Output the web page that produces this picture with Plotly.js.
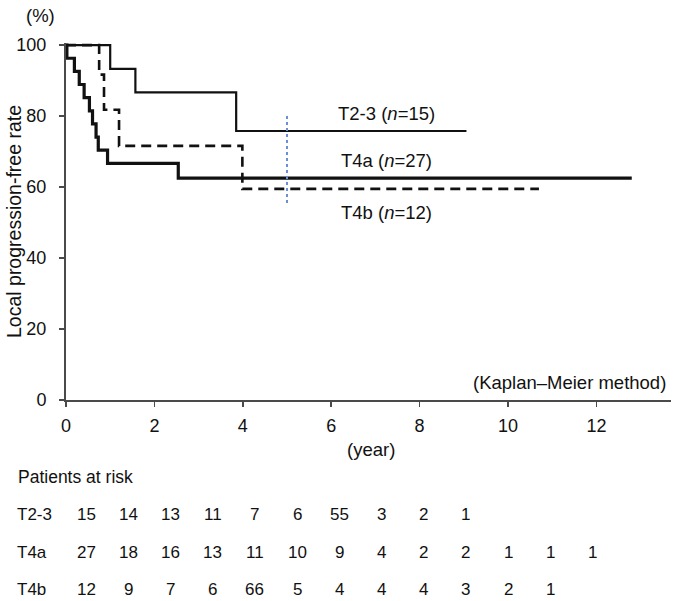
<!DOCTYPE html>
<html><head><meta charset="utf-8">
<script src="https://cdn.plot.ly/plotly-3.0.1.min.js"></script>
<style>html,body{margin:0;padding:0;background:#fff}#chart{width:675px;height:601px}</style>
</head><body><div id="chart"></div>
<script>
// ---- data ----
const t23Time = [0, 1.0, 1.57, 3.85, 9.06];
const t23Surv = [100, 93.3, 86.7, 75.8, 75.8];
const t4aTime = [0, 0.02, 0.19, 0.30, 0.41, 0.53, 0.60, 0.68, 0.73, 0.94, 2.54, 12.8];
const t4aSurv = [100, 96.3, 92.6, 88.9, 85.2, 81.5, 77.8, 74.1, 70.4, 66.7, 62.5, 62.5];
const t4bTime = [0, 0.75, 0.86, 1.2, 3.99, 10.7];
const t4bSurv = [100, 91.7, 81.8, 71.6, 59.5, 59.5];
const refYear = [5, 5];
const refSurv = [55.5, 80];
const groupNames = ['T2-3', 'T4a', 'T4b'];
const groupN = [15, 27, 12];
const riskT23 = [15, 14, 13, 11, 7, 6, 55, 3, 2, 1];
const riskT4a = [27, 18, 16, 13, 11, 10, 9, 4, 2, 2, 1, 1, 1];
const riskT4b = [12, 9, 7, 6, 66, 5, 4, 4, 4, 3, 2, 1];
const xTicks = [0, 2, 4, 6, 8, 10, 12];
const yTicks = [0, 20, 40, 60, 80, 100];

// ---- layout constants ----
const W = 675, H = 601;
const M = {l: 66, r: 4, t: 43, b: 201};
const PW = W - M.l - M.r, PH = H - M.t - M.b;
const FONT = 'Liberation Sans, Arial, Helvetica, sans-serif';
const TXT = '#111';
const px2x = px => (px - M.l) / PW;
const py2y = py => (H - M.b - py) / PH;

const lineCol = '#111';
const traces = [
  {x: t23Time, y: t23Surv, mode: 'lines', line: {shape: 'hv', color: lineCol, width: 2.2}},
  {x: t4aTime, y: t4aSurv, mode: 'lines', line: {shape: 'hv', color: lineCol, width: 3.2}},
  {x: t4bTime, y: t4bSurv, mode: 'lines', line: {shape: 'hv', color: lineCol, width: 2.6, dash: '10px,6px'}},
  {x: refYear, y: refSurv, mode: 'lines', line: {color: '#6b8fd6', width: 2, dash: 'dot'}}
];

const ann = [];
// group labels (data coordinates of label centres)
const labelPos = [[7.26, 80.8], [7.26, 67.6], [7.26, 52.7]];
groupNames.forEach((g, i) => {
  ann.push({x: labelPos[i][0], y: labelPos[i][1], xref: 'x', yref: 'y', showarrow: false,
    text: g + ' (<i>n</i>=' + groupN[i] + ')', font: {family: FONT, size: 18.5, color: TXT},
    xanchor: 'center', yanchor: 'middle'});
});
// titles / notes
ann.push({x: px2x(40), y: py2y(15), xref: 'paper', yref: 'paper', showarrow: false, text: '(%)',
  font: {family: FONT, size: 18.5, color: TXT}, xanchor: 'center', yanchor: 'middle'});
ann.push({x: px2x(14), y: py2y(222), xref: 'paper', yref: 'paper', showarrow: false,
  text: 'Local progression-free rate', textangle: -90,
  font: {family: FONT, size: 19.5, color: TXT}, xanchor: 'center', yanchor: 'middle'});
ann.push({x: px2x(668), y: py2y(382), xref: 'paper', yref: 'paper', showarrow: false,
  text: '(Kaplan\u2013Meier method)', font: {family: FONT, size: 18.5, color: TXT},
  xanchor: 'right', yanchor: 'middle'});
ann.push({x: px2x(371), y: py2y(449), xref: 'paper', yref: 'paper', showarrow: false,
  text: '(year)', font: {family: FONT, size: 18.5, color: TXT}, xanchor: 'center', yanchor: 'middle'});
ann.push({x: px2x(16), y: py2y(477), xref: 'paper', yref: 'paper', showarrow: false,
  text: 'Patients at risk', font: {family: FONT, size: 17.5, color: TXT}, xanchor: 'left', yanchor: 'middle'});
// risk table
const rows = [riskT23, riskT4a, riskT4b];
const rowPy = [514, 552, 589];
const colPx0 = 86, colStep = 42.2;
rows.forEach((vals, r) => {
  ann.push({x: px2x(16), y: py2y(rowPy[r]), xref: 'paper', yref: 'paper', showarrow: false, borderpad: 0,
    text: groupNames[r], font: {family: FONT, size: 17, color: TXT}, xanchor: 'left', yanchor: 'middle'});
  vals.forEach((v, k) => {
    ann.push({x: px2x(colPx0 + colStep * k), y: py2y(rowPy[r]), xref: 'paper', yref: 'paper',
      showarrow: false, borderpad: 0, text: String(v), font: {family: FONT, size: 17, color: TXT},
      xanchor: 'center', yanchor: 'middle'});
  });
});

const axisCommon = {showline: true, linecolor: '#4a4a4a', linewidth: 2, ticks: 'outside',
  ticklen: 5, tickwidth: 1.5, tickcolor: '#4a4a4a', showgrid: false, zeroline: false,
  tickfont: {family: FONT, size: 18, color: TXT}, fixedrange: true};

const layout = {
  width: W, height: H, margin: M, paper_bgcolor: '#fff', plot_bgcolor: '#fff',
  showlegend: false,
  xaxis: Object.assign({}, axisCommon, {range: [0, PW / 44.2], tickvals: xTicks, ticklabelstandoff: 3}),
  yaxis: Object.assign({}, axisCommon, {range: [0, 100.6], tickvals: yTicks, ticklabelstandoff: 9}),
  annotations: ann
};
Plotly.newPlot('chart', traces, layout, {displayModeBar: false, staticPlot: true});
</script></body></html>
